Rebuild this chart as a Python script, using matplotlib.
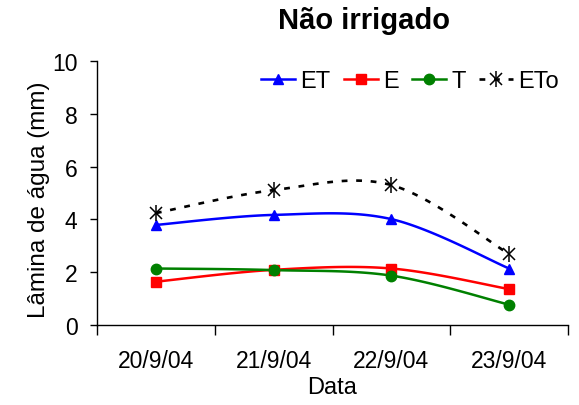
import numpy as np
import matplotlib
matplotlib.use("Agg")
import matplotlib.pyplot as plt
from matplotlib.lines import Line2D
from matplotlib.legend_handler import HandlerTuple

plt.rcParams['font.family'] = ['Liberation Sans', 'DejaVu Sans']

categories = ["20/9/04", "21/9/04", "22/9/04", "23/9/04"]
ET = [3.79, 4.17, 4.01, 2.14]
E = [1.64, 2.09, 2.14, 1.36]
T = [2.14, 2.08, 1.87, 0.77]
ETo = [4.24, 5.11, 5.30, 2.69]


def smooth(x, y, n=40):
    x = np.asarray(x, float); y = np.asarray(y, float)
    xs, ys = [], []
    for i in range(len(x) - 1):
        p0 = np.array([x[max(i - 1, 0)], y[max(i - 1, 0)]])
        p1 = np.array([x[i], y[i]])
        p2 = np.array([x[i + 1], y[i + 1]])
        p3 = np.array([x[min(i + 2, len(x) - 1)], y[min(i + 2, len(x) - 1)]])
        c1 = p1 + (p2 - p0) / 6.0
        c2 = p2 - (p3 - p1) / 6.0
        t = np.linspace(0, 1, n)[:, None]
        pts = ((1 - t) ** 3) * p1 + 3 * ((1 - t) ** 2) * t * c1 + 3 * (1 - t) * t ** 2 * c2 + t ** 3 * p2
        xs.extend(pts[:, 0]); ys.extend(pts[:, 1])
    return np.array(xs), np.array(ys)


fig = plt.figure(figsize=(5.79, 4.06), dpi=100)
ax = fig.add_axes([97 / 579, 80 / 406, (568 - 97) / 579, (326 - 62) / 406])

x = np.arange(len(categories))
series = [
    (ET, 'blue', '^', '-', 'ET', 7.5),
    (E, 'red', 's', '-', 'E', 7.5),
    (T, 'green', 'o', '-', 'T', 7.5),
]
handles = []
labels = []
for vals, col, mk, ls, lab, ms in series:
    sx, sy = smooth(x, vals)
    ax.plot(sx, sy, color=col, lw=1.8, ls=ls, zorder=2)
    ax.plot(x, vals, ls='none', marker=mk, color=col, ms=ms, mew=1.0, zorder=3)
    handles.append(Line2D([], [], color=col, ls=ls, lw=1.8, marker=mk, ms=ms, mew=1.0))
    labels.append(lab)

# ETo: dotted line with "x + |" star marker
eto_ls = (0, (2.2, 3.3))
sx, sy = smooth(x, ETo)
ax.plot(sx, sy, color='black', lw=1.9, ls=eto_ls, zorder=2)
ax.plot(x, ETo, ls='none', marker='x', color='black', ms=8, mew=1.1, zorder=3)
ax.plot(x, ETo, ls='none', marker='|', color='black', ms=11, mew=1.1, zorder=3)
handles.append((Line2D([], [], color='black', ls=eto_ls, lw=1.9, marker='x', ms=8, mew=1.1),
                Line2D([], [], color='black', ls='none', marker='|', ms=11, mew=1.1)))
labels.append('ETo')

ax.set_xlim(-0.5, len(categories) - 0.5)
ax.set_ylim(0, 10)
ax.set_yticks([0, 2, 4, 6, 8, 10])
ax.set_xticks(x)
ax.set_xticklabels(categories, fontsize=16.5)
ax.set_xticks(np.arange(len(categories) + 1) - 0.5, minor=True)
ax.tick_params(axis='x', which='major', length=0, pad=17)
ax.tick_params(axis='x', which='minor', length=7, width=1, direction='out')
ax.tick_params(axis='y', length=5, width=1, direction='out', labelsize=16.5, pad=9)
for s in ['top', 'right']:
    ax.spines[s].set_visible(False)
for s in ['left', 'bottom']:
    ax.spines[s].set_linewidth(1)

ax.set_xlabel('Data', fontsize=17, labelpad=3)
ax.set_ylabel('Lâmina de água (mm)', fontsize=17.5)
ax.yaxis.set_label_coords((50 - 97) / 471, (326 - 200) / 264)

leg = ax.legend(handles=handles, labels=labels, handler_map={tuple: HandlerTuple(ndivide=1)},
                loc='center right', bbox_to_anchor=(1.0, (326 - 82) / 264), ncol=4, frameon=False,
                fontsize=17, handlelength=1.45, handletextpad=0.22, columnspacing=0.55, borderaxespad=0)

fig.text(364 / 579, 1 - 21 / 406, 'Não irrigado', ha='center', va='center', fontsize=21, fontweight='bold')

fig.savefig('out.png', dpi=100)
